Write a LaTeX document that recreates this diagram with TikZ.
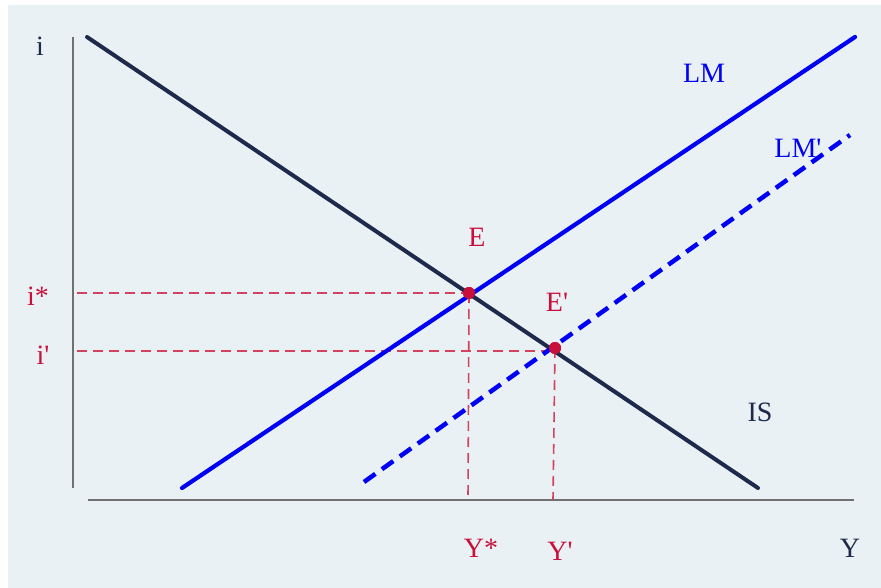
\documentclass[tikz,border=0pt]{standalone}
\usepackage{fontspec}
\setmainfont{Liberation Serif}[Ligatures=TeXOff]
\definecolor{bg}{HTML}{E9F1F4}
\definecolor{navy}{HTML}{1E2A4C}
\definecolor{lmblue}{HTML}{0000F5}
\definecolor{crim}{HTML}{C8103A}
\definecolor{dashred}{HTML}{D2435F}
\definecolor{axisgray}{HTML}{707070}
\begin{document}
\begin{tikzpicture}[x=1pt,y=-1pt,
  lbl/.style={font=\fontsize{28}{32}\selectfont, inner sep=0pt},
  axisline/.style={draw=axisgray, line width=2pt},
  isline/.style={draw=navy, line width=4pt, line cap=round},
  lmline/.style={draw=lmblue, line width=4.2pt, line cap=round},
  lmdash/.style={draw=lmblue, line width=4.5pt, dash pattern=on 14pt off 8pt},
  guide/.style={draw=dashred, line width=1.6pt, dash pattern=on 10pt off 6pt},
  pt/.style={circle, fill=crim, minimum size=12pt, inner sep=0pt}]
\fill[white] (0,0) rectangle (881,588);
\fill[bg] (8,5) rectangle (881,588);
\useasboundingbox (0,0) rectangle (881,588);
% axes
\coordinate (ytop) at (73,37);
\coordinate (ybot) at (73,488);
\coordinate (xl) at (88,500);
\coordinate (xr) at (854,500);
\draw[axisline] (ytop) -- (ybot);
\draw[axisline] (xl) -- (xr);
% curves
\coordinate (is1) at (87,37);
\coordinate (is2) at (758,488);
\coordinate (lm1) at (182,488);
\coordinate (lm2) at (855,37);
\coordinate (lmp1) at (364,482);
\coordinate (lmp2) at (850,135);
% guide ends
\coordinate (ga) at (77,293);
\coordinate (gb) at (77,351);
\coordinate (gc) at (468,500);
\coordinate (gd) at (553,500);
\node[pt] (E) at (469,293) {};
\node[pt] (Ep) at (555,348) {};
\draw[guide] (ga) -- (E.center);
\draw[guide] (gb) -- (Ep.center |- gb);
\draw[guide] (E.center) -- (gc);
\draw[guide] (Ep.center) -- (gd);
\draw[isline] (is1) -- (is2);
\draw[lmline] (lm1) -- (lm2);
\draw[lmdash] (lmp1) -- (lmp2);
\node[pt] at (E) {};
\node[pt] at (Ep) {};
% labels
\node[lbl, text=navy] (li) at (40,46) {i};
\node[lbl, text=navy] (lY) at (850,548) {Y};
\node[lbl, text=navy] (lIS) at (760,412) {IS};
\node[lbl, text=lmblue] (lLM) at (704,73) {LM};
\node[lbl, text=lmblue] (lLMp) at (798,148) {LM'};
\node[lbl, text=crim] (lE) at (477,237) {E};
\node[lbl, text=crim] (lEp) at (557,302) {E'};
\node[lbl, text=crim] (lis) at (38,296) {i*};
\node[lbl, text=crim] (lip) at (43,355) {i'};
\node[lbl, text=crim] (lYs) at (481,548) {Y*};
\node[lbl, text=crim] (lYp) at (560,551) {Y'};
\end{tikzpicture}
\end{document}
